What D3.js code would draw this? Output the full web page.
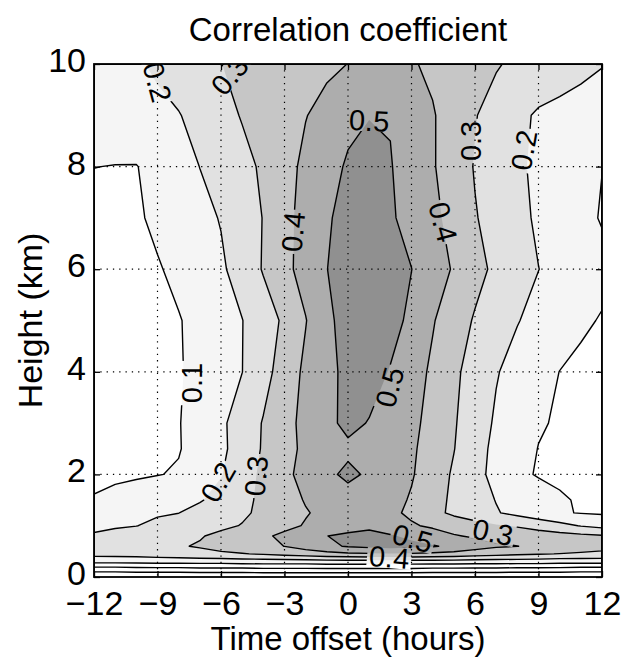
<!DOCTYPE html>
<html>
<head>
<meta charset="utf-8">
<script src="https://cdn.jsdelivr.net/npm/d3@7"></script>
<style>
body { margin: 0; background: #fff; }
text { font-family: "Liberation Sans", Arial, Helvetica, sans-serif; }
</style>
</head>
<body>
<div id="chart"></div>
<script>

// grid of the correlation field: columns are time offsets, rows are heights (bottom to top)
var hours = [-12,-11,-10,-9,-8,-7,-6,-5,-4,-3,-2,-1,0,1,2,3,4,5,6,7,8,9,10,11,12];
var heights = [0,0.15,0.3,0.45,0.6,0.8,1,1.25,1.5,2,2.5,3,4,5,6,7,8,9,10];
var corr = [
  [-0.2,-0.2,-0.2,-0.2,-0.2,-0.2,-0.2,-0.2,-0.2,-0.2,-0.2,-0.2,-0.2,-0.2,-0.2,-0.2,-0.2,-0.2,-0.2,-0.2,-0.2,-0.2,-0.2,-0.2,-0.2],
  [-0.05,-0.05,-0.04,-0.04,-0.04,-0.03,-0.03,-0.03,-0.02,-0.02,-0.02,-0.02,-0.02,-0.02,-0.02,-0.02,-0.03,-0.03,-0.03,-0.03,-0.04,-0.04,-0.04,-0.05,-0.05],
  [0.13,0.13,0.13,0.14,0.14,0.14,0.14,0.15,0.15,0.15,0.15,0.16,0.16,0.16,0.16,0.16,0.16,0.16,0.15,0.15,0.15,0.15,0.14,0.14,0.14],
  [0.23,0.235,0.24,0.25,0.26,0.275,0.285,0.295,0.31,0.33,0.35,0.37,0.385,0.39,0.39,0.39,0.38,0.37,0.35,0.335,0.32,0.308,0.297,0.288,0.28],
  [0.25,0.261,0.271,0.282,0.293,0.307,0.33,0.353,0.377,0.401,0.44,0.48,0.508,0.524,0.54,0.524,0.508,0.48,0.44,0.412,0.401,0.385,0.365,0.348,0.33],
  [0.21,0.227,0.243,0.26,0.277,0.294,0.319,0.352,0.384,0.42,0.46,0.499,0.517,0.528,0.509,0.481,0.444,0.407,0.389,0.376,0.363,0.35,0.336,0.323,0.31],
  [0.18,0.19,0.198,0.22,0.24,0.261,0.282,0.304,0.339,0.375,0.407,0.436,0.462,0.48,0.445,0.41,0.385,0.36,0.335,0.31,0.29,0.26,0.23,0.195,0.17],
  [0.16,0.17,0.18,0.19,0.199,0.229,0.257,0.286,0.319,0.357,0.394,0.422,0.447,0.446,0.419,0.383,0.328,0.281,0.244,0.207,0.174,0.141,0.108,0.096,0.09],
  [0.103,0.111,0.12,0.144,0.168,0.193,0.231,0.276,0.32,0.364,0.406,0.438,0.47,0.47,0.432,0.391,0.334,0.283,0.239,0.197,0.168,0.138,0.109,0.092,0.08],
  [0.09,0.093,0.095,0.098,0.105,0.15,0.195,0.258,0.32,0.377,0.432,0.485,0.515,0.49,0.449,0.408,0.35,0.288,0.229,0.172,0.117,0.094,0.086,0.078,0.07],
  [0.08,0.084,0.089,0.093,0.097,0.121,0.18,0.244,0.309,0.372,0.418,0.452,0.485,0.475,0.45,0.412,0.366,0.303,0.234,0.178,0.135,0.098,0.085,0.072,0.06],
  [0.07,0.077,0.083,0.09,0.097,0.128,0.183,0.244,0.306,0.369,0.426,0.48,0.52,0.496,0.458,0.421,0.372,0.309,0.245,0.188,0.148,0.108,0.091,0.081,0.07],
  [0.06,0.069,0.077,0.086,0.095,0.117,0.158,0.199,0.267,0.343,0.42,0.477,0.521,0.534,0.495,0.441,0.384,0.319,0.261,0.206,0.168,0.132,0.099,0.084,0.07],
  [0.06,0.069,0.078,0.087,0.096,0.121,0.16,0.198,0.254,0.316,0.396,0.483,0.531,0.57,0.53,0.481,0.407,0.347,0.291,0.248,0.204,0.173,0.142,0.112,0.095],
  [0.06,0.071,0.083,0.094,0.117,0.152,0.186,0.24,0.307,0.373,0.438,0.499,0.53,0.56,0.531,0.501,0.447,0.391,0.33,0.28,0.24,0.201,0.173,0.147,0.12],
  [0.07,0.08,0.09,0.115,0.144,0.174,0.205,0.254,0.303,0.372,0.434,0.491,0.526,0.544,0.511,0.47,0.423,0.369,0.306,0.264,0.224,0.187,0.153,0.12,0.095],
  [0.101,0.098,0.097,0.13,0.165,0.201,0.236,0.273,0.314,0.369,0.42,0.463,0.512,0.53,0.506,0.449,0.408,0.352,0.294,0.254,0.214,0.183,0.157,0.13,0.101],
  [0.14,0.154,0.168,0.182,0.196,0.228,0.268,0.306,0.336,0.367,0.397,0.429,0.475,0.497,0.494,0.445,0.407,0.359,0.305,0.262,0.219,0.19,0.18,0.172,0.165],
  [0.16,0.175,0.191,0.212,0.241,0.271,0.299,0.317,0.333,0.35,0.367,0.383,0.401,0.433,0.436,0.408,0.383,0.358,0.333,0.308,0.28,0.255,0.235,0.218,0.203]
];

var levels = [-0.1, 0, 0.1, 0.2, 0.3, 0.4, 0.5];
var shades = ["#ffffff", "#ffffff", "#f5f5f5", "#e1e1e1", "#c6c6c6", "#adadad", "#909090"];

var xTicks = [-12, -9, -6, -3, 0, 3, 6, 9, 12];
var yTicks = [0, 2, 4, 6, 8, 10];

// inline contour labels
var labelText  = ["0.2", "0.3", "0.4", "0.5", "0.4", "0.3", "0.2", "0.1", "0.2", "0.3", "0.5", "0.5", "0.4", "0.3"];
var labelHour  = [-9.0, -5.6, -2.6, 1.0, 4.5, 5.8, 8.3, -7.4, -6.15, -4.35, 1.95, 3.05, 1.95, 6.85];
var labelKm    = [9.65, 9.78, 6.73, 8.9, 6.92, 8.5, 8.32, 3.78, 1.85, 1.97, 3.7, 0.76, 0.39, 0.88];
var labelAngle = [75, -50, -85, 3, 75, -90, -80, -90, -60, -85, -75, 15, 5, 12];

var margin = {top: 64, right: 19, bottom: 83, left: 94},
    width = 621 - margin.left - margin.right,
    height = 660 - margin.top - margin.bottom;

var svg = d3.select("#chart").append("svg")
    .attr("width", width + margin.left + margin.right)
    .attr("height", height + margin.top + margin.bottom)
    .append("g")
    .attr("transform", "translate(" + margin.left + "," + margin.top + ")");

var x = d3.scaleLinear().domain([-12, 12]).range([0, width]);
var y = d3.scaleLinear().domain([0, 10]).range([height, 0]);

var defs = svg.append("defs");
defs.append("clipPath").attr("id", "plot")
    .append("rect").attr("width", width).attr("height", height);

// d3.contours puts sample i at i + 0.5; map back onto the (uneven) grid values
function along(c, arr) {
    var t = Math.max(0, Math.min(arr.length - 1, c - 0.5)),
        i = Math.min(arr.length - 2, Math.floor(t));
    return arr[i] + (t - i) * (arr[i + 1] - arr[i]);
}

var path = d3.geoPath(d3.geoTransform({
    point: function(px, py) {
        this.stream.point(x(along(px, hours)), y(along(py, heights)));
    }
}));

var bands = d3.contours()
    .size([hours.length, heights.length])
    .thresholds(levels)(corr.flat());

var plot = svg.append("g").attr("clip-path", "url(#plot)");

plot.append("rect")
    .attr("width", width)
    .attr("height", height)
    .attr("fill", "#fff");

plot.selectAll("path.band")
    .data(bands)
    .enter()
    .append("path")
    .attr("class", "band")
    .attr("d", path)
    .attr("fill", function(d, i) { return shades[i]; });

// dotted grid
plot.selectAll("line.gx")
    .data(xTicks.slice(1, -1))
    .enter()
    .append("line")
    .attr("x1", function(d) { return x(d); })
    .attr("x2", function(d) { return x(d); })
    .attr("y1", 0)
    .attr("y2", height)
    .attr("stroke", "#000")
    .attr("stroke-width", 1.2)
    .attr("stroke-dasharray", "1.3,5");

plot.selectAll("line.gy")
    .data(yTicks.slice(1, -1))
    .enter()
    .append("line")
    .attr("y1", function(d) { return y(d); })
    .attr("y2", function(d) { return y(d); })
    .attr("x1", 0)
    .attr("x2", width)
    .attr("stroke", "#000")
    .attr("stroke-width", 1.2)
    .attr("stroke-dasharray", "1.3,5");

var lines = plot.append("g");

var labels = plot.selectAll("text.clabel")
    .data(labelText)
    .enter()
    .append("text")
    .attr("class", "clabel")
    .attr("transform", function(d, i) {
        return "translate(" + x(labelHour[i]) + "," + y(labelKm[i]) + ") rotate(" + labelAngle[i] + ")";
    })
    .attr("text-anchor", "middle")
    .attr("dy", "0.36em")
    .attr("font-size", 29)
    .text(function(d) { return d; });

// break the contour lines where the labels sit
var mask = defs.append("mask").attr("id", "gaps")
    .attr("maskUnits", "userSpaceOnUse")
    .attr("x", 0).attr("y", 0).attr("width", width).attr("height", height);
mask.append("rect").attr("width", width).attr("height", height).attr("fill", "#fff");
labels.each(function(d, i) {
    var w = this.getComputedTextLength() + 4;
    mask.append("rect")
        .attr("transform", "translate(" + x(labelHour[i]) + "," + y(labelKm[i]) + ") rotate(" + labelAngle[i] + ")")
        .attr("x", -w / 2)
        .attr("y", -11)
        .attr("width", w)
        .attr("height", 22)
        .attr("fill", "#000");
});

lines.attr("mask", "url(#gaps)")
    .selectAll("path")
    .data(bands)
    .enter()
    .append("path")
    .attr("d", path)
    .attr("fill", "none")
    .attr("stroke", "#000")
    .attr("stroke-width", 1.4)
    .attr("stroke-linejoin", "round");

// axes: ticks point inward on all four sides
var fmt = d3.format("d");

svg.append("g")
    .attr("transform", "translate(0," + height + ")")
    .call(d3.axisBottom(x).tickValues(xTicks).tickSize(-6).tickPadding(14).tickFormat(fmt))
    .call(function(g) { g.select(".domain").remove(); })
    .attr("font-size", 34)
    .attr("font-family", null);

svg.append("g")
    .call(d3.axisLeft(y).tickValues(yTicks).tickSize(-6).tickPadding(8).tickFormat(fmt))
    .call(function(g) { g.select(".domain").remove(); })
    .attr("font-size", 34)
    .attr("font-family", null)
    .selectAll("text").attr("dy", "0.22em");

svg.append("g")
    .call(d3.axisTop(x).tickValues(xTicks).tickSize(-6).tickFormat(""))
    .call(function(g) { g.select(".domain").remove(); });

svg.append("g")
    .attr("transform", "translate(" + width + ",0)")
    .call(d3.axisRight(y).tickValues(yTicks).tickSize(-6).tickFormat(""))
    .call(function(g) { g.select(".domain").remove(); });

svg.selectAll(".tick line").attr("stroke-width", 1.3);

svg.append("rect")
    .attr("width", width)
    .attr("height", height)
    .attr("fill", "none")
    .attr("stroke", "#000")
    .attr("stroke-width", 1.8);

svg.append("text")
    .attr("x", width / 2)
    .attr("y", -23)
    .attr("text-anchor", "middle")
    .attr("font-size", 33)
    .text("Correlation coefficient");

svg.append("text")
    .attr("x", width / 2)
    .attr("y", height + 73)
    .attr("text-anchor", "middle")
    .attr("font-size", 33)
    .text("Time offset (hours)");

svg.append("text")
    .attr("transform", "rotate(-90)")
    .attr("x", -height / 2)
    .attr("y", -52)
    .attr("text-anchor", "middle")
    .attr("font-size", 34)
    .text("Height (km)");

</script>
</body>
</html>
